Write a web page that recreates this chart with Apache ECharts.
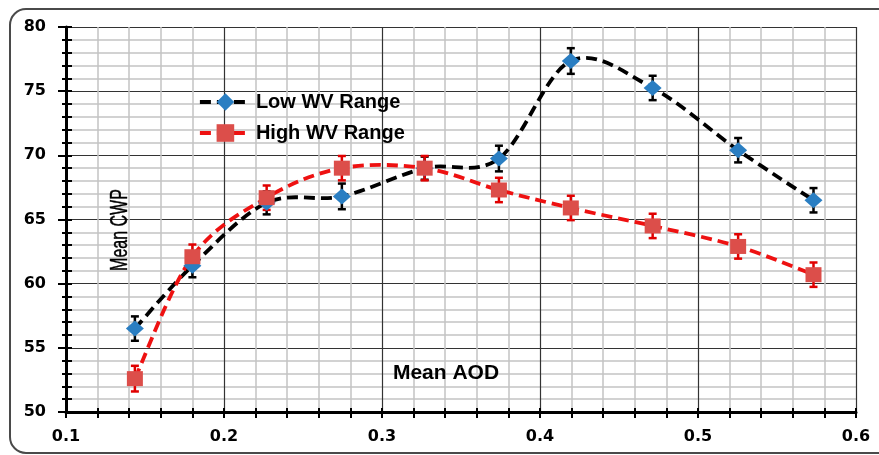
<!DOCTYPE html>
<html>
<head>
<meta charset="utf-8">
<script src="https://cdn.jsdelivr.net/npm/echarts@6/dist/echarts.min.js"></script>
<style>html,body{margin:0;padding:0;background:#fff;}#c{width:879px;height:455px;}</style>
</head>
<body>
<div id="c"></div>
<script>
var meanAOD = [0.1436, 0.180, 0.2270, 0.2746, 0.327, 0.374, 0.4195, 0.4713, 0.5254, 0.5731];
var lowWV = [56.5, 61.4, 66.3, 66.8, 69.0, 69.75, 77.35, 75.25, 70.4, 66.5];
var lowWVErr = [0.95, 0.9, 0.9, 1.0, 0.9, 1.0, 1.0, 0.95, 0.95, 0.95];
var highWV = [52.6, 62.1, 66.7, 69.0, 69.0, 67.3, 65.9, 64.5, 62.9, 60.7];
var highWVErr = [1.0, 0.95, 0.95, 0.95, 0.95, 0.95, 0.95, 0.95, 0.95, 0.95];
var seriesNames = ['Low WV Range', 'High WV Range'];

function pairs(xs, ys) { return xs.map(function (x, i) { return [x, ys[i]]; }); }
function triples(xs, ys, es) { return xs.map(function (x, i) { return [x, ys[i], es[i]]; }); }

function errRender(color) {
  return function (params, api) {
    var x = api.value(0), y = api.value(1), e = api.value(2);
    var top = api.coord([x, y + e]);
    var bot = api.coord([x, y - e]);
    var hw = 4;
    var st = { stroke: color, lineWidth: 2.5 };
    return {
      type: 'group',
      children: [
        { type: 'line', shape: { x1: top[0], y1: top[1], x2: bot[0], y2: bot[1] }, style: st },
        { type: 'line', shape: { x1: top[0] - hw, y1: top[1], x2: top[0] + hw, y2: top[1] }, style: st },
        { type: 'line', shape: { x1: bot[0] - hw, y1: bot[1], x2: bot[0] + hw, y2: bot[1] }, style: st }
      ]
    };
  };
}

// Excel-like smoothed curve: cubic Bezier through the data points (pixel space via api.coord)
function curveRender(xs, ys, color) {
  return function (params, api) {
    if (params.dataIndex !== 0) return null;
    var p = xs.map(function (x, i) { return api.coord([x, ys[i]]); });
    var n = p.length;
    var d = 'M' + p[0][0] + ' ' + p[0][1];
    for (var i = 0; i < n - 1; i++) {
      var p0 = p[i > 0 ? i - 1 : i], p1 = p[i], p2 = p[i + 1], p3 = p[i + 2 < n ? i + 2 : i + 1];
      var c1x = p1[0] + (p2[0] - p0[0]) / 6, c1y = p1[1] + (p2[1] - p0[1]) / 6;
      var c2x = p2[0] - (p3[0] - p1[0]) / 6, c2y = p2[1] - (p3[1] - p1[1]) / 6;
      d += ' C' + c1x + ' ' + c1y + ' ' + c2x + ' ' + c2y + ' ' + p2[0] + ' ' + p2[1];
    }
    return {
      type: 'path',
      shape: { pathData: d },
      style: { fill: 'none', stroke: color, lineWidth: 3.8, lineDash: [11, 6] }
    };
  };
}

var chart = echarts.init(document.getElementById('c'), null, { renderer: 'canvas' });
var tickFont = { fontFamily: 'DejaVu Sans', fontWeight: 'bold', fontSize: 16, color: '#000' };

chart.setOption({
  backgroundColor: '#fff',
  animation: false,
  grid: { left: 66, right: 23, top: 27, bottom: 43 },
  legend: {
    orient: 'vertical',
    left: 193,
    top: 86,
    itemWidth: 51,
    itemHeight: 22,
    itemGap: 9,
    data: [
      { name: seriesNames[0], lineStyle: { color: '#000', width: 3.8, type: [11, 6], opacity: 1 } },
      { name: seriesNames[1], lineStyle: { color: '#ee1111', width: 3.8, type: [11, 6], opacity: 1 } }
    ],
    textStyle: { fontFamily: 'Liberation Sans', fontWeight: 'bold', fontSize: 20, color: '#000', lineHeight: 22 }
  },
  xAxis: [{
    type: 'value', min: 0.1, max: 0.6, interval: 0.1,
    axisLine: { onZero: false, lineStyle: { color: '#000', width: 3 } },
    axisTick: { length: 6, lineStyle: { color: '#000', width: 2 } },
    minorTick: { show: true, splitNumber: 5, length: 6, lineStyle: { color: '#000', width: 2 } },
    axisLabel: Object.assign({ margin: 17, formatter: function (v) { return v.toFixed(1); } }, tickFont),
    splitLine: { show: true, lineStyle: { color: '#333', width: 1.2 } },
    minorSplitLine: { show: true, lineStyle: { color: '#c4c4c4', width: 1.5 } }
  }, {
    type: 'value', min: 0.1, max: 0.6, interval: 0.1, position: 'bottom', offset: 0,
    axisLine: { show: false },
    axisTick: { inside: true, length: 4, lineStyle: { color: '#000', width: 2 } },
    minorTick: { show: true, splitNumber: 5, length: 4, lineStyle: { color: '#000', width: 2 } },
    axisLabel: { show: false },
    splitLine: { show: false }
  }],
  yAxis: [{
    type: 'value', min: 50, max: 80, interval: 5,
    axisLine: { show: true, lineStyle: { color: '#000', width: 3 } },
    axisTick: { show: true, length: 8, lineStyle: { color: '#000', width: 2 } },
    minorTick: { show: true, splitNumber: 5, length: 4, lineStyle: { color: '#000', width: 2 } },
    axisLabel: Object.assign({ margin: 20 }, tickFont),
    splitLine: { show: true, lineStyle: { color: '#333', width: 1.2 } },
    minorSplitLine: { show: true, lineStyle: { color: '#c4c4c4', width: 1.5 } }
  }, {
    type: 'value', min: 50, max: 80, interval: 5, position: 'left', offset: 0,
    axisLine: { show: false },
    axisTick: { show: true, inside: true, length: 6, lineStyle: { color: '#000', width: 2 } },
    minorTick: { show: true, splitNumber: 5, length: 6, lineStyle: { color: '#000', width: 2 } },
    axisLabel: { show: false },
    splitLine: { show: false }
  }],
  graphic: [
    { type: 'rect', shape: { x: 10, y: 9, width: 885, height: 444, r: 16 }, style: { fill: 'none', stroke: '#4a4a4a', lineWidth: 2 }, z: 100 },
    { type: 'text', x: 446, y: 373, style: { text: 'Mean AOD', fontFamily: 'Liberation Sans', fontWeight: 'bold', fontSize: 21, fill: '#000', align: 'center', verticalAlign: 'middle' }, z: 50 },
    { type: 'text', x: 121, y: 230, rotation: Math.PI / 2, scaleY: 1.45, style: { text: 'Mean CWP', fontFamily: 'Liberation Sans', fontSize: 16, fill: '#000', stroke: '#000', lineWidth: 0.3, align: 'center', verticalAlign: 'middle' }, z: 50 }
  ],
  series: [
    {
      type: 'custom', name: 'lowErr', z: 1,
      renderItem: errRender('#000'),
      data: triples(meanAOD, lowWV, lowWVErr)
    },
    {
      type: 'custom', name: 'highErr', z: 1,
      renderItem: errRender('#e00000'),
      data: triples(meanAOD, highWV, highWVErr)
    },
    {
      type: 'custom', name: 'lowCurve', z: 2,
      renderItem: curveRender(meanAOD, lowWV, '#000'),
      data: pairs(meanAOD, lowWV)
    },
    {
      type: 'custom', name: 'highCurve', z: 2,
      renderItem: curveRender(meanAOD, highWV, '#ee1111'),
      data: pairs(meanAOD, highWV)
    },
    {
      type: 'line', name: seriesNames[0], z: 3,
      data: pairs(meanAOD, lowWV),
      symbol: 'diamond', symbolSize: [18, 16],
      itemStyle: { color: '#2a7ec2' },
      lineStyle: { width: 0, opacity: 0 }
    },
    {
      type: 'line', name: seriesNames[1], z: 4,
      data: pairs(meanAOD, highWV),
      symbol: 'rect', symbolSize: [16, 15],
      itemStyle: { color: '#dc4e4a' },
      lineStyle: { width: 0, opacity: 0 }
    }
  ]
});
</script>
</body>
</html>
